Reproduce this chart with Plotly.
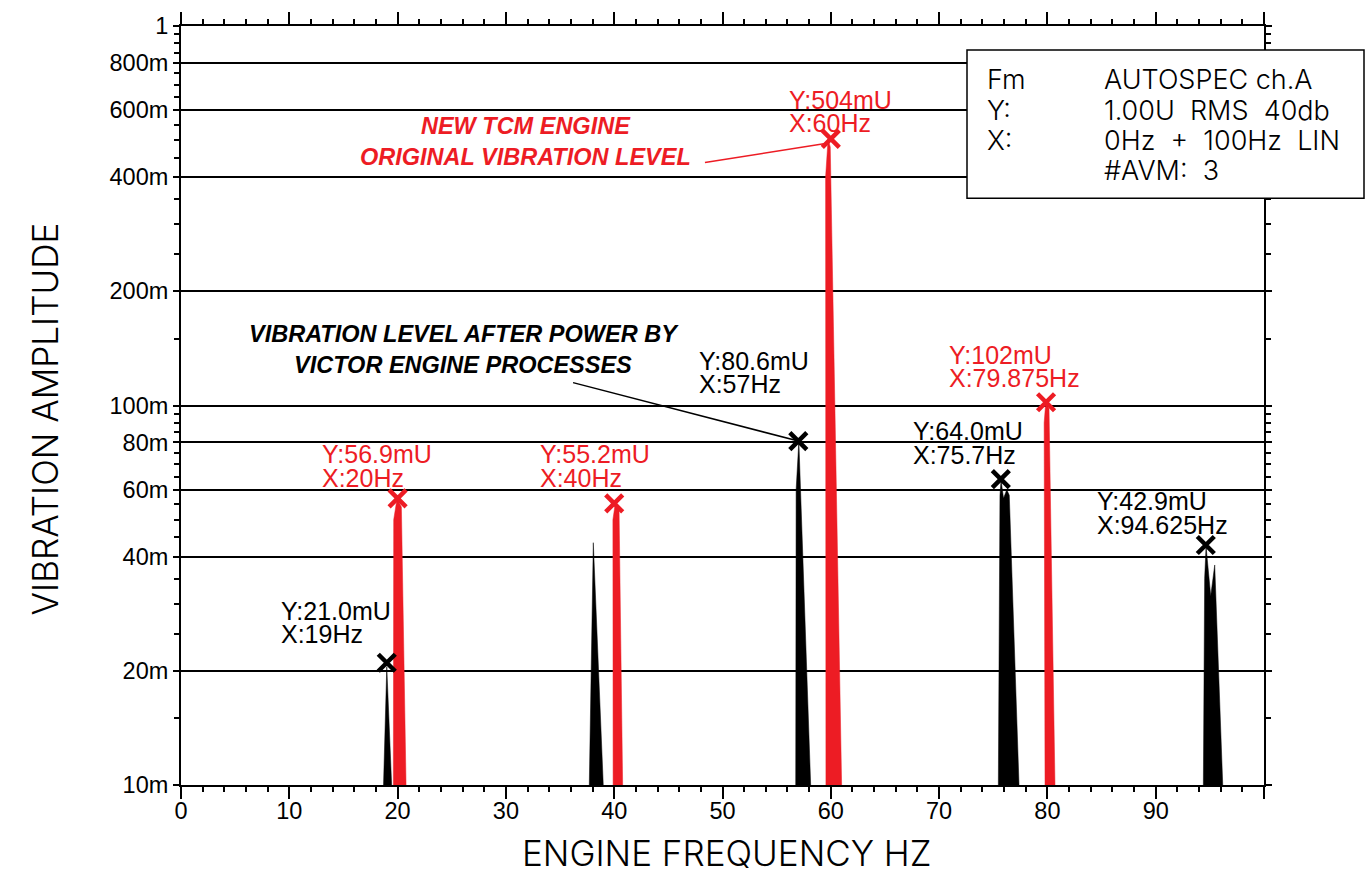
import plotly.graph_objects as go

# ---------------- data ----------------
# black spectrum peaks (frequency Hz, amplitude U)
black_peak_freqs = [
    [18.70, 19.00, 19.45],
    [37.70, 38.07, 38.99],
    [56.76, 56.80, 57.05, 58.14],
    [75.47, 75.62, 75.72, 75.95, 76.25, 76.48, 77.38],
    [94.40, 94.52, 94.65, 95.08, 95.45, 96.19],
]
black_peak_amps = [
    [0.01, 0.0205, 0.01],
    [0.01, 0.0435, 0.01],
    [0.01, 0.060, 0.0806, 0.01],
    [0.01, 0.058, 0.0635, 0.057, 0.060, 0.058, 0.01],
    [0.01, 0.035, 0.0425, 0.0315, 0.038, 0.01],
]
# red spectrum peaks
red_peak_freqs = [
    [19.61, 19.64, 19.95, 20.35, 20.78],
    [39.90, 39.88, 40.10, 40.45, 40.78],
    [59.55, 59.52, 59.75, 59.95, 61.00],
    [79.78, 79.70, 79.85, 80.15, 80.70],
]
red_peak_amps = [
    [0.01, 0.050, 0.0569, 0.054, 0.01],
    [0.01, 0.050, 0.0552, 0.053, 0.01],
    [0.01, 0.40, 0.504, 0.48, 0.01],
    [0.01, 0.090, 0.102, 0.098, 0.01],
]

# cursor markers
red_marker_freq = [20, 40, 60, 79.875]
red_marker_amp = [0.0569, 0.0552, 0.504, 0.102]
red_marker_ylabel = ["Y:56.9mU", "Y:55.2mU", "Y:504mU", "Y:102mU"]
red_marker_xlabel = ["X:20Hz", "X:40Hz", "X:60Hz", "X:79.875Hz"]

black_marker_freq = [19, 57, 75.7, 94.625]
black_marker_amp = [0.0210, 0.0806, 0.0640, 0.0429]
black_marker_ylabel = ["Y:21.0mU", "Y:80.6mU", "Y:64.0mU", "Y:42.9mU"]
black_marker_xlabel = ["X:19Hz", "X:57Hz", "X:75.7Hz", "X:94.625Hz"]

# pointer lines
red_pointer_freq = [48.38, 59.5]
red_pointer_amp = [0.437, 0.490]
black_pointer_freq = [36.2, 57.0]
black_pointer_amp = [0.1149, 0.0806]

# axis ticks
x_tick_vals = [0, 10, 20, 30, 40, 50, 60, 70, 80, 90, 100]
x_tick_text = ["0", "10", "20", "30", "40", "50", "60", "70", "80", "90", ""]
x_minor_vals = [v for v in range(0, 101, 2) if v % 10 != 0]
y_tick_vals = [0.01, 0.02, 0.04, 0.06, 0.08, 0.1, 0.2, 0.4, 0.6, 0.8, 1.0]
y_tick_text = ["10m", "20m", "40m", "60m", "80m", "100m", "200m", "400m", "600m", "800m", "1"]
y_minor_vals = [0.015, 0.025, 0.03, 0.035, 0.045, 0.05, 0.055, 0.065, 0.07, 0.075,
                0.085, 0.09, 0.095, 0.15, 0.25, 0.3, 0.35, 0.45, 0.5, 0.55,
                0.65, 0.7, 0.75, 0.85, 0.9, 0.95]

info_keys = ["Fm", "Y:", "X:", ""]
info_vals = ["AUTOSPEC ch.A", "1.00U\u00a0\u00a0RMS\u00a0\u00a040db",
             "0Hz\u00a0\u00a0+\u00a0\u00a0100Hz\u00a0\u00a0LIN", "#AVM:\u00a0\u00a03"]

RED = "#ED1C24"
BLACK = "#000000"
FONT = "Liberation Sans, Arial, sans-serif"
LIGHT = "Inter, Liberation Sans, sans-serif"


def join_segments(list_of_lists):
    out = []
    for i, seg in enumerate(list_of_lists):
        if i:
            out.append(None)
        out.extend(seg)
    return out


fig = go.Figure()

fig.add_trace(go.Scatter(
    x=join_segments(black_peak_freqs), y=join_segments(black_peak_amps),
    mode="lines", fill="toself", fillcolor=BLACK,
    line=dict(color=BLACK, width=0.5), hoverinfo="skip", showlegend=False))
fig.add_trace(go.Scatter(
    x=join_segments(red_peak_freqs), y=join_segments(red_peak_amps),
    mode="lines", fill="toself", fillcolor=RED,
    line=dict(color=RED, width=0.5), hoverinfo="skip", showlegend=False))

fig.add_trace(go.Scatter(x=red_pointer_freq, y=red_pointer_amp, mode="lines",
                         line=dict(color=RED, width=1.5), showlegend=False, hoverinfo="skip"))
fig.add_trace(go.Scatter(x=black_pointer_freq, y=black_pointer_amp, mode="lines",
                         line=dict(color=BLACK, width=1.5), showlegend=False, hoverinfo="skip"))

fig.add_trace(go.Scatter(x=black_marker_freq, y=black_marker_amp, mode="markers",
                         marker=dict(symbol="x-thin", size=17, line=dict(color=BLACK, width=4.5)),
                         showlegend=False))
fig.add_trace(go.Scatter(x=red_marker_freq, y=red_marker_amp, mode="markers",
                         marker=dict(symbol="x-thin", size=17, line=dict(color=RED, width=4.5)),
                         showlegend=False))

# plot-area geometry (pixels) used to place free text
L, R, T, B = 181, 1264, 23, 785


def px(xp):
    return (xp - L) / (R - L)


def py(yp):
    return (B - yp) / (B - T)


annotations = []
# cursor labels: (left edge px, Y-line centre px)
red_label_pos = [(320, 453), (538, 453), (787, 97), (947, 353)]
black_label_pos = [(279, 610), (697, 359), (911, 430), (1095, 500)]
for labels_y, labels_x, pos, col in [
        (red_marker_ylabel, red_marker_xlabel, red_label_pos, RED),
        (black_marker_ylabel, black_marker_xlabel, black_label_pos, BLACK)]:
    for ty, tx, (lx, ly) in zip(labels_y, labels_x, pos):
        for txt, yy in [(ty, ly), (tx, ly + 23.5)]:
            annotations.append(dict(text=txt, x=px(lx), y=py(yy), xref="paper", yref="paper",
                                    xanchor="left", yanchor="middle", showarrow=False,
                                    font=dict(family=FONT, size=25, color=col)))

annotations.append(dict(text="<b><i>NEW TCM ENGINE<br>ORIGINAL VIBRATION LEVEL</i></b>",
                        x=px(525), y=py(139), xref="paper", yref="paper", xanchor="center",
                        yanchor="middle", showarrow=False, align="center",
                        font=dict(family=FONT, size=23.5, color=RED)))
annotations.append(dict(text="<b><i>VIBRATION LEVEL AFTER POWER BY<br>VICTOR ENGINE PROCESSES</i></b>",
                        x=px(464), y=py(348), xref="paper", yref="paper", xanchor="center",
                        yanchor="middle", showarrow=False, align="center",
                        font=dict(family=FONT, size=23.5, color=BLACK)))

# info box text
info_rows_y = [77, 108, 138, 168]
for k, v, yy in zip(info_keys, info_vals, info_rows_y):
    if k:
        annotations.append(dict(text=k, x=px(985), y=py(yy), xref="paper", yref="paper",
                                xanchor="left", yanchor="middle", showarrow=False,
                                font=dict(family=LIGHT, size=27, color=BLACK, weight=300)))
    annotations.append(dict(text=v, x=px(1102), y=py(yy), xref="paper", yref="paper",
                            xanchor="left", yanchor="middle", showarrow=False,
                            font=dict(family=LIGHT, size=27, color=BLACK, weight=300)))

# axis titles
annotations.append(dict(text="ENGINE FREQUENCY HZ", x=px(727), y=py(853), xref="paper", yref="paper",
                        xanchor="center", yanchor="middle", showarrow=False,
                        font=dict(family=LIGHT, size=35, color=BLACK, weight=300)))
annotations.append(dict(text="VIBRATION AMPLITUDE", x=px(45), y=py(418), xref="paper", yref="paper",
                        xanchor="center", yanchor="middle", showarrow=False, textangle=-90,
                        font=dict(family=LIGHT, size=35, color=BLACK, weight=300)))

fig.update_layout(
    width=1372, height=873,
    margin=dict(l=L, r=1372 - R, t=T, b=873 - B),
    paper_bgcolor="white", plot_bgcolor="white",
    annotations=annotations,
    shapes=[dict(type="rect", xref="paper", yref="paper",
                 x0=px(967), x1=px(1364), y0=py(196), y1=py(47),
                 fillcolor="white", line=dict(color=BLACK, width=1.5), layer="above")],
    font=dict(family=FONT, color=BLACK),
)

fig.update_xaxes(
    range=[0, 100], tickmode="array", tickvals=x_tick_vals, ticktext=x_tick_text,
    ticks="outside", ticklen=12, tickwidth=1.5, tickcolor=BLACK,
    showline=True, linecolor=BLACK, linewidth=2, mirror="allticks",
    showgrid=False, zeroline=False, ticklabelstandoff=-8,
    tickfont=dict(family=FONT, size=23.5, color=BLACK),
    minor=dict(tickmode="array", tickvals=x_minor_vals, ticks="outside", ticklen=5,
               tickwidth=1.5, tickcolor=BLACK, showgrid=False),
)
fig.update_yaxes(
    type="log", range=[-2, 0], tickmode="array", tickvals=y_tick_vals, ticktext=y_tick_text,
    ticks="outside", ticklen=6, tickwidth=1.5, tickcolor=BLACK,
    showline=True, linecolor=BLACK, linewidth=2, mirror="allticks",
    showgrid=True, gridcolor=BLACK, gridwidth=1.5, zeroline=False,
    tickfont=dict(family=FONT, size=23.5, color=BLACK),
    minor=dict(tickmode="array", tickvals=y_minor_vals, ticks="outside", ticklen=5,
               tickwidth=1.5, tickcolor=BLACK, showgrid=False),
)

fig.write_html("out.html", config={"displayModeBar": False},
               post_script="document.body.style.margin='0px';")
